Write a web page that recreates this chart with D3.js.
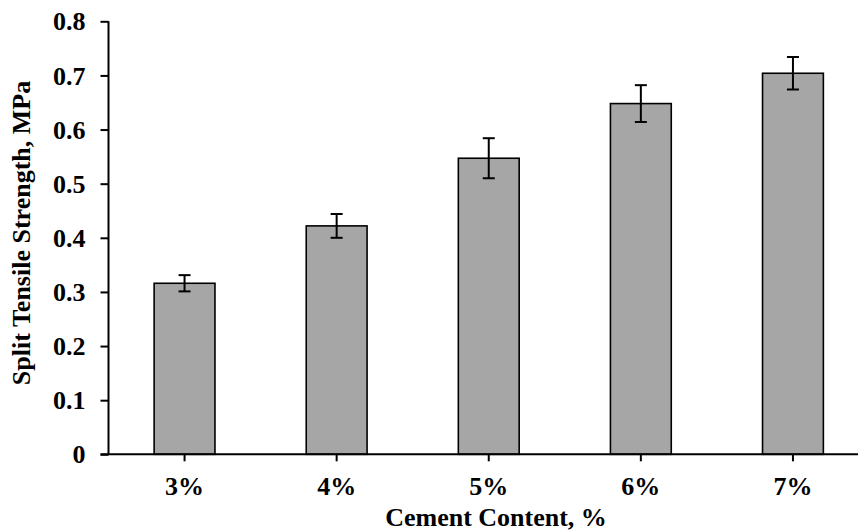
<!DOCTYPE html>
<html>
<head>
<meta charset="utf-8">
<script src="https://cdn.jsdelivr.net/npm/d3@7"></script>
<style>
  html, body { margin: 0; padding: 0; background: #fff; }
  svg { display: block; }
  text { font-family: "Liberation Serif", "Times New Roman", serif; font-weight: bold; fill: #000; }
</style>
</head>
<body>
<script>
const categories = ["3%", "4%", "5%", "6%", "7%"];
const strength = [0.316, 0.422, 0.547, 0.648, 0.704];
const errorBar = [0.015, 0.022, 0.037, 0.034, 0.030];
const yTicks = [0, 0.1, 0.2, 0.3, 0.4, 0.5, 0.6, 0.7, 0.8];
const xTitle = "Cement Content, %";
const yTitle = "Split Tensile Strength, MPa";

const W = 858, H = 531;
const plotLeft = 108.5, plotRight = 869, plotTop = 21.3, plotBottom = 454.3;

const svg = d3.select("body").append("svg").attr("width", W).attr("height", H);

const x = d3.scaleBand().domain(categories).range([plotLeft, plotRight])
  .paddingInner(0.6).paddingOuter(0.3);
const y = d3.scaleLinear().domain([0, 0.8]).range([plotBottom, plotTop]);

const data = categories.map((c, i) => ({ c, v: strength[i], e: errorBar[i] }));

// bars
svg.append("g").selectAll("rect").data(data).join("rect")
  .attr("x", d => x(d.c))
  .attr("y", d => y(d.v))
  .attr("width", x.bandwidth())
  .attr("height", d => y(0) - y(d.v))
  .attr("fill", "#a6a6a6")
  .attr("stroke", "#000")
  .attr("stroke-width", 1.6);

// error bars
const eg = svg.append("g").attr("stroke", "#000").attr("stroke-width", 2);
data.forEach(d => {
  const cx = x(d.c) + x.bandwidth() / 2;
  eg.append("line").attr("x1", cx).attr("x2", cx).attr("y1", y(d.v + d.e)).attr("y2", y(d.v - d.e));
  eg.append("line").attr("x1", cx - 6).attr("x2", cx + 6).attr("y1", y(d.v + d.e)).attr("y2", y(d.v + d.e));
  eg.append("line").attr("x1", cx - 6).attr("x2", cx + 6).attr("y1", y(d.v - d.e)).attr("y2", y(d.v - d.e));
});

// y axis
const yAxis = d3.axisLeft(y).tickValues(yTicks).tickSize(8).tickPadding(15)
  .tickFormat(d => d === 0 ? "0" : d3.format(".1f")(d));
const yg = svg.append("g").attr("transform", `translate(${plotLeft},0)`).call(yAxis);
yg.select(".domain").attr("d", `M0,${plotTop}V${plotBottom}`).attr("stroke", "#000").attr("stroke-width", 2);
yg.selectAll(".tick line").attr("stroke", "#000").attr("stroke-width", 2);
yg.selectAll(".tick text").style("font-size", "26px").attr("dy", "0.33em")
  .style("font-family", '"Liberation Serif", serif').style("font-weight", "bold");

// x axis
const xAxis = d3.axisBottom(x).tickSize(7).tickPadding(15);
const xg = svg.append("g").attr("transform", `translate(0,${plotBottom})`).call(xAxis);
xg.select(".domain").attr("d", `M${plotLeft - 8},0H${plotRight}`).attr("stroke", "#000").attr("stroke-width", 2);
xg.selectAll(".tick line").attr("stroke", "#000").attr("stroke-width", 2);
xg.selectAll(".tick text").style("font-size", "26px")
  .style("font-family", '"Liberation Serif", serif').style("font-weight", "bold");

// titles
svg.append("text").attr("x", 496).attr("y", 526).attr("text-anchor", "middle")
  .style("font-size", "26px").text(xTitle);
svg.append("text").attr("transform", "translate(30,233) rotate(-90)").attr("text-anchor", "middle")
  .style("font-size", "26px").text(yTitle);
</script>
</body>
</html>
